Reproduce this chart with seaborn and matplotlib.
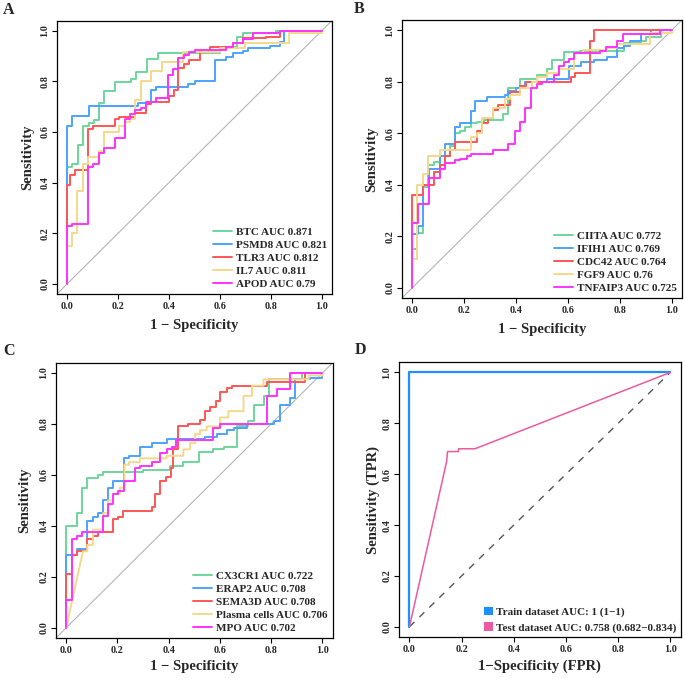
import numpy as np
import pandas as pd
import matplotlib
matplotlib.use("Agg")
import matplotlib.pyplot as plt
import seaborn as sns
from matplotlib.lines import Line2D
from matplotlib.patches import Patch

# ---------------- data ----------------
# Panel A
A_BTC_x = [0, 0, 0.017, 0.042, 0.061, 0.084, 0.105, 0.124, 0.146, 0.186, 0.249, 0.27, 0.313, 0.356, 0.602, 0.667, 0.69, 0.82, 1.0]
A_BTC_y = [0, 0.463, 0.475, 0.549, 0.624, 0.634, 0.647, 0.713, 0.762, 0.799, 0.81, 0.838, 0.887, 0.913, 0.935, 0.976, 0.99, 1.0, 1.0]
A_PSMD8_x = [0, 0, 0.02, 0.085, 0.28, 0.33, 0.35, 0.474, 0.5, 0.582, 0.624, 0.65, 0.69, 0.71, 0.795, 0.834, 0.853, 1.0]
A_PSMD8_y = [0, 0.625, 0.664, 0.701, 0.715, 0.764, 0.777, 0.79, 0.80, 0.885, 0.895, 0.91, 0.92, 0.93, 0.94, 0.955, 1.0, 1.0]
A_TLR3_x = [0, 0, 0.012, 0.029, 0.082, 0.103, 0.186, 0.205, 0.268, 0.31, 0.33, 0.40, 0.42, 0.435, 0.457, 0.48, 0.52, 0.56, 0.65, 0.69, 0.78, 0.834, 1.0]
A_TLR3_y = [0, 0.389, 0.429, 0.45, 0.612, 0.625, 0.653, 0.66, 0.675, 0.71, 0.72, 0.74, 0.767, 0.852, 0.87, 0.885, 0.915, 0.935, 0.95, 0.97, 0.975, 1.0, 1.0]
A_IL7_x = [0, 0, 0.02, 0.039, 0.062, 0.082, 0.124, 0.144, 0.205, 0.226, 0.245, 0.267, 0.29, 0.33, 0.372, 0.454, 0.6, 0.7, 0.87, 1.0]
A_IL7_y = [0, 0.151, 0.20, 0.366, 0.474, 0.50, 0.525, 0.60, 0.625, 0.64, 0.65, 0.727, 0.80, 0.84, 0.876, 0.915, 0.93, 0.95, 0.99, 1.0]
A_APOD_x = [0, 0, 0.02, 0.082, 0.103, 0.124, 0.145, 0.186, 0.226, 0.247, 0.268, 0.29, 0.31, 0.35, 0.395, 0.415, 0.435, 0.46, 0.48, 0.5, 0.624, 0.65, 0.69, 0.73, 0.834, 1.0]
A_APOD_y = [0, 0.227, 0.235, 0.46, 0.475, 0.515, 0.535, 0.575, 0.65, 0.67, 0.685, 0.695, 0.72, 0.735, 0.825, 0.85, 0.89, 0.905, 0.915, 0.925, 0.935, 0.95, 0.965, 0.99, 1.0, 1.0]
A_labels = ["BTC AUC 0.871", "PSMD8 AUC 0.821", "TLR3 AUC 0.812", "IL7 AUC 0.811", "APOD AUC 0.79"]

# Panel B
B_CIITA_x = [0, 0, 0.018, 0.041, 0.062, 0.083, 0.106, 0.145, 0.164, 0.183, 0.203, 0.225, 0.248, 0.276, 0.35, 0.37, 0.415, 0.48, 0.52, 0.54, 0.585, 0.648, 0.815, 0.88, 0.9, 0.96, 1.0]
B_CIITA_y = [0, 0.151, 0.213, 0.39, 0.475, 0.49, 0.51, 0.55, 0.60, 0.61, 0.625, 0.64, 0.645, 0.65, 0.675, 0.775, 0.81, 0.825, 0.85, 0.885, 0.915, 0.92, 0.95, 0.96, 0.975, 1.0, 1.0]
B_IFIH1_x = [0, 0, 0.022, 0.041, 0.065, 0.106, 0.125, 0.164, 0.183, 0.228, 0.24, 0.286, 0.357, 0.37, 0.40, 0.435, 0.52, 0.603, 0.65, 0.70, 0.75, 0.79, 0.815, 0.84, 0.88, 0.92, 1.0]
B_IFIH1_y = [0, 0.21, 0.24, 0.40, 0.46, 0.51, 0.56, 0.625, 0.64, 0.685, 0.725, 0.74, 0.75, 0.765, 0.775, 0.80, 0.81, 0.86, 0.875, 0.885, 0.895, 0.93, 0.94, 0.96, 0.985, 1.0, 1.0]
B_CDC42_x = [0, 0, 0.041, 0.084, 0.106, 0.126, 0.145, 0.164, 0.248, 0.27, 0.29, 0.312, 0.332, 0.377, 0.415, 0.44, 0.61, 0.628, 0.684, 0.70, 1.0]
B_CDC42_y = [0, 0.361, 0.40, 0.45, 0.475, 0.51, 0.535, 0.565, 0.61, 0.64, 0.66, 0.69, 0.71, 0.76, 0.785, 0.80, 0.82, 0.835, 0.96, 1.0, 1.0]
B_FGF9_x = [0, 0, 0.019, 0.041, 0.062, 0.106, 0.228, 0.248, 0.27, 0.312, 0.357, 0.377, 0.415, 0.46, 0.48, 0.52, 0.564, 0.622, 0.66, 0.75, 0.79, 0.918, 1.0]
B_FGF9_y = [0, 0.11, 0.40, 0.44, 0.51, 0.535, 0.585, 0.60, 0.66, 0.70, 0.735, 0.75, 0.775, 0.80, 0.82, 0.835, 0.85, 0.91, 0.925, 0.93, 0.945, 0.99, 1.0]
B_TNF_x = [0, 0, 0.022, 0.065, 0.106, 0.125, 0.164, 0.183, 0.209, 0.228, 0.312, 0.37, 0.396, 0.415, 0.435, 0.458, 0.48, 0.5, 0.545, 0.564, 0.583, 0.605, 0.622, 0.725, 0.745, 0.79, 0.813, 0.957, 1.0]
B_TNF_y = [0, 0.252, 0.326, 0.426, 0.46, 0.485, 0.495, 0.50, 0.51, 0.52, 0.535, 0.56, 0.61, 0.645, 0.70, 0.775, 0.79, 0.80, 0.825, 0.86, 0.875, 0.89, 0.91, 0.92, 0.935, 0.96, 0.985, 1.0, 1.0]
B_labels = ["CIITA AUC 0.772", "IFIH1 AUC 0.769", "CDC42 AUC 0.764", "FGF9 AUC 0.76", "TNFAIP3 AUC 0.725"]

# Panel C
C_CX3_x = [0, 0, 0.042, 0.063, 0.082, 0.124, 0.144, 0.30, 0.405, 0.457, 0.52, 0.574, 0.614, 0.666, 0.711, 0.731, 0.77, 0.79, 0.92, 1.0]
C_CX3_y = [0, 0.40, 0.45, 0.55, 0.587, 0.60, 0.61, 0.62, 0.635, 0.65, 0.69, 0.70, 0.71, 0.79, 0.81, 0.875, 0.91, 0.975, 1.0, 1.0]
C_ERAP2_x = [0, 0, 0.042, 0.082, 0.104, 0.124, 0.144, 0.163, 0.183, 0.227, 0.245, 0.287, 0.333, 0.392, 0.54, 0.587, 0.627, 0.653, 0.705, 0.81, 0.836, 0.875, 0.894, 0.953, 1.0]
C_ERAP2_y = [0, 0.285, 0.31, 0.42, 0.435, 0.45, 0.50, 0.55, 0.575, 0.665, 0.675, 0.71, 0.725, 0.74, 0.75, 0.76, 0.775, 0.785, 0.80, 0.81, 0.875, 0.90, 0.975, 0.98, 1.0]
C_SEMA_x = [0, 0, 0.023, 0.042, 0.082, 0.104, 0.124, 0.183, 0.202, 0.222, 0.333, 0.346, 0.366, 0.388, 0.407, 0.418, 0.437, 0.476, 0.522, 0.542, 0.56, 0.583, 0.60, 0.627, 0.646, 0.783, 0.93, 1.0]
C_SEMA_y = [0, 0.21, 0.285, 0.30, 0.35, 0.36, 0.375, 0.425, 0.435, 0.46, 0.475, 0.525, 0.575, 0.59, 0.625, 0.70, 0.79, 0.80, 0.815, 0.85, 0.865, 0.89, 0.925, 0.94, 0.95, 0.965, 1.0, 1.0]
C_PLASMA_x = [0, 0.065, 0.082, 0.104, 0.144, 0.163, 0.183, 0.209, 0.227, 0.245, 0.287, 0.392, 0.457, 0.483, 0.503, 0.522, 0.548, 0.60, 0.633, 0.692, 0.725, 0.77, 0.946, 1.0]
C_PLASMA_y = [0, 0.30, 0.325, 0.385, 0.45, 0.50, 0.525, 0.55, 0.64, 0.65, 0.665, 0.675, 0.70, 0.725, 0.76, 0.775, 0.79, 0.825, 0.85, 0.91, 0.95, 0.975, 0.99, 1.0]
C_PLASMA_diag = [1]
C_MPO_x = [0, 0, 0.023, 0.042, 0.063, 0.144, 0.163, 0.183, 0.202, 0.227, 0.268, 0.287, 0.333, 0.366, 0.392, 0.411, 0.43, 0.574, 0.60, 0.783, 0.822, 0.875, 1.0]
C_MPO_y = [0, 0.11, 0.35, 0.36, 0.375, 0.44, 0.485, 0.525, 0.535, 0.575, 0.625, 0.635, 0.65, 0.685, 0.70, 0.71, 0.735, 0.785, 0.80, 0.91, 0.935, 1.0, 1.0]
C_labels = ["CX3CR1 AUC 0.722", "ERAP2 AUC 0.708", "SEMA3D AUC 0.708", "Plasma cells AUC 0.706", "MPO AUC 0.702"]

# Panel D
D_train_x = [0, 0, 1.0]
D_train_y = [0, 1.0, 1.0]
D_test_x = [0, 0.143, 0.146, 0.188, 0.188, 0.251, 1.0]
D_test_y = [0, 0.652, 0.689, 0.689, 0.70, 0.70, 1.0]
D_labels = ["Train dataset AUC: 1 (1\u22121)", "Test dataset AUC: 0.758 (0.682\u22120.834)"]

ticks = [0.0, 0.2, 0.4, 0.6, 0.8, 1.0]
tick_labels = ["0.0", "0.2", "0.4", "0.6", "0.8", "1.0"]

# ---------------- style ----------------
sns.set_style("ticks")
plt.rcParams['font.family'] = ['Liberation Serif', 'DejaVu Serif']
plt.rcParams['font.weight'] = 'bold'
plt.rcParams['axes.labelweight'] = 'bold'

COLS5 = ["#6ED69C", "#4DA3FF", "#FF5656", "#F3D98C", "#FF33FF"]
TRAIN_COL = "#1E90FF"
TEST_COL = "#EC5AA2"

W, H = 685, 678
fig = plt.figure(figsize=(W / 100, H / 100), dpi=100)


def px_axes(l, r, t, b):
    return fig.add_axes([l / W, 1 - b / H, (r - l) / W, (b - t) / H])


def roc_path(xs, ys, diag=()):
    px, py = [xs[0]], [ys[0]]
    for i in range(1, len(xs)):
        if i not in diag:
            px.append(xs[i]); py.append(ys[i - 1])
        px.append(xs[i]); py.append(ys[i])
    return px, py


def style_axes(ax, xlabel, ylabel, ylab_x, xlab_y):
    ax.set_xlim(-0.04, 1.04)
    ax.set_ylim(-0.04, 1.04)
    ax.set_xticks(ticks)
    ax.set_xticklabels(tick_labels)
    ax.set_yticks(ticks)
    ax.set_yticklabels(tick_labels, rotation=90, va='center')
    ax.tick_params(length=3.5, width=0.8, labelsize=7.3, pad=2, color='black')
    for s in ax.spines.values():
        s.set_visible(True)
        s.set_linewidth(0.9)
        s.set_color('black')
    ax.set_xlabel(xlabel, fontsize=10.5, fontweight='bold')
    ax.set_ylabel(ylabel, fontsize=10.5, fontweight='bold')
    ax.xaxis.set_label_coords(0.5, xlab_y)
    ax.yaxis.set_label_coords(ylab_x, 0.5)
    ax.xaxis.label.set_verticalalignment('center')
    ax.yaxis.label.set_verticalalignment('center')
    ax.set_facecolor('white')


def draw_panel(ax, curves, labels, diags=None):
    ax.axline((0, 0), (1, 1), color="#B5B5B5", lw=0.8, zorder=1)
    diags = diags or [()] * len(curves)
    for (xs, ys), c, d in zip(curves, COLS5, diags):
        px, py = roc_path(xs, ys, d)
        sns.lineplot(x=px, y=py, sort=False, estimator=None, color=c, lw=1.4, ax=ax, zorder=2)
    handles = [Line2D([0], [0], color=c, lw=1.4) for c in COLS5]
    ax.legend(handles, labels, loc='lower right', bbox_to_anchor=(1.0, 0.0), frameon=False,
              prop={'family': 'Liberation Serif', 'weight': 'bold', 'size': 8},
              handlelength=1.7, handletextpad=0.35, labelspacing=0.3,
              borderaxespad=0.25, borderpad=0.2)


axA = px_axes(57, 332, 20.5, 294)
draw_panel(axA, [(A_BTC_x, A_BTC_y), (A_PSMD8_x, A_PSMD8_y), (A_TLR3_x, A_TLR3_y),
                 (A_IL7_x, A_IL7_y), (A_APOD_x, A_APOD_y)], A_labels)
style_axes(axA, "1 \u2212 Specificity", "Sensitivity", -0.105, -0.117)

axB = px_axes(402, 682, 20, 298)
draw_panel(axB, [(B_CIITA_x, B_CIITA_y), (B_IFIH1_x, B_IFIH1_y), (B_CDC42_x, B_CDC42_y),
                 (B_FGF9_x, B_FGF9_y), (B_TNF_x, B_TNF_y)], B_labels)
style_axes(axB, "1 \u2212 Specificity", "Sensitivity", -0.107, -0.115)

axC = px_axes(56, 332.7, 362.7, 638)
draw_panel(axC, [(C_CX3_x, C_CX3_y), (C_ERAP2_x, C_ERAP2_y), (C_SEMA_x, C_SEMA_y),
                 (C_PLASMA_x, C_PLASMA_y), (C_MPO_x, C_MPO_y)], C_labels,
           diags=[(), (), (), C_PLASMA_diag, ()])
style_axes(axC, "1 \u2212 Specificity", "Sensitivity", -0.112, -0.104)

axD = px_axes(399, 680.7, 362.3, 637)
sns.lineplot(x=[0, 1], y=[0, 1], sort=False, estimator=None, color="#555555", lw=1.0,
             linestyle=(0, (5, 5)), ax=axD)
sns.lineplot(x=D_train_x, y=D_train_y, sort=False, estimator=None, color=TRAIN_COL, lw=1.6, ax=axD)
sns.lineplot(x=D_test_x, y=D_test_y, sort=False, estimator=None, color=TEST_COL, lw=1.1, ax=axD)
dh = [Patch(facecolor=TRAIN_COL, edgecolor='none'), Patch(facecolor=TEST_COL, edgecolor='none')]
axD.legend(dh, D_labels, loc='lower right', bbox_to_anchor=(1.0, 0.0), frameon=False,
           prop={'family': 'Liberation Serif', 'weight': 'bold', 'size': 8},
           handlelength=0.75, handleheight=0.75, handletextpad=0.3, labelspacing=0.45,
           borderaxespad=0.2, borderpad=0.2)
style_axes(axD, "1\u2212Specificity (FPR)", "Sensitivity (TPR)", -0.092, -0.108)

for letter, x, y in [("A", 8.7, 9.5), ("B", 359, 9), ("C", 8.7, 350.5), ("D", 360, 350)]:
    fig.text(x / W, 1 - y / H, letter, ha='center', va='center', fontsize=11.5,
             fontweight='bold', family='Liberation Serif')

fig.savefig("out.png", dpi=100, facecolor='white')
